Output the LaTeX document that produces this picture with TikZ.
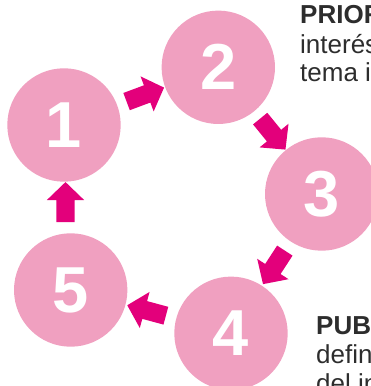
\documentclass[tikz,border=0pt]{standalone}
\usepackage{fontspec}
\setmainfont{Liberation Sans}
\usetikzlibrary{shapes.arrows}
\definecolor{pinkc}{RGB}{240,160,192}
\definecolor{magarrow}{RGB}{227,0,123}
\definecolor{txtgray}{RGB}{45,45,45}
\begin{document}
\begin{tikzpicture}[x=1pt,y=1pt,
  stepcircle/.style={circle,fill=pinkc,draw=none,minimum size=113.4pt,inner sep=0pt,
    text=white,font=\fontsize{65}{65}\selectfont\bfseries},
  blockarrow/.style={single arrow,fill=magarrow,draw=none,inner sep=9pt,
    minimum height=40pt,single arrow head extend=9.5pt,single arrow tip angle=92,
    allow upside down},
  sidetext/.style={anchor=base west,text=txtgray,font=\fontsize{26}{26}\selectfont,inner sep=0pt},
  sidebold/.style={sidetext,font=\fontsize{26}{26}\selectfont\bfseries}]
\useasboundingbox (0,0) rectangle (371,386);
\clip (0,0) rectangle (371,386);
\node[stepcircle] (c1) at (64,261) {1};
\node[stepcircle] (c2) at (218.3,318.7) {2};
\node[stepcircle] (c3) at (321.7,192) {3};
\node[stepcircle] (c4) at (231,52.7) {4};
\node[stepcircle] (c5) at (70.7,96) {5};
\path (c1) -- (c2) node[midway,sloped,blockarrow] {};
\path (c2) -- (c3) node[midway,sloped,blockarrow] {};
\path (c3) -- (c4) node[midway,sloped,blockarrow] {};
\path (c4) -- (c5) node[midway,sloped,blockarrow] {};
\coordinate (a51) at (65.5,179.5);
\node[blockarrow,rotate=90] (arr51) at (a51) {};
\node[sidebold] (t1) at (300,362.7) {PRIOR};
\node[sidetext] (t2) at (300,332.7) {interés};
\node[sidetext] (t3) at (300,304.3) {tema i};
\node[sidebold] (t4) at (316,51.7) {PUB};
\node[sidetext] (t5) at (316,22.7) {defin};
\node[sidetext] (t6) at (316,-6) {del in};
\end{tikzpicture}
\end{document}
